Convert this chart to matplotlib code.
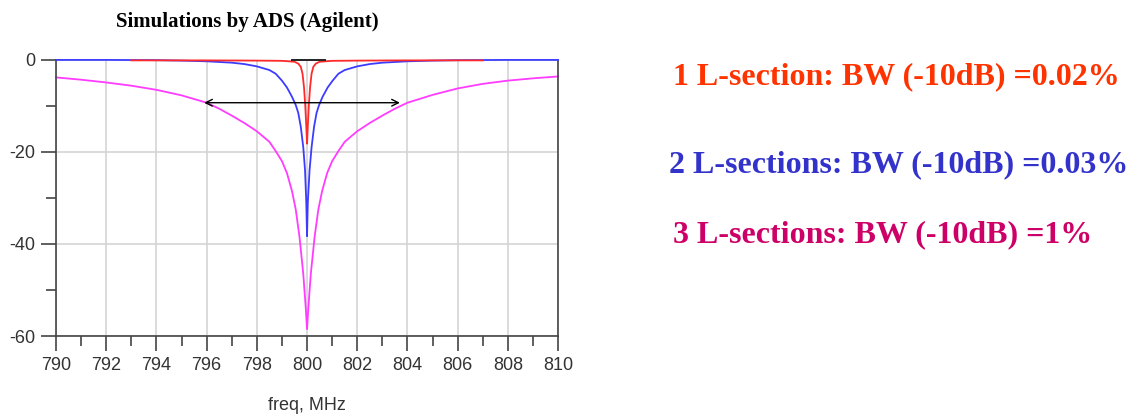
import numpy as np
import matplotlib.pyplot as plt
from matplotlib.ticker import MultipleLocator

plt.rcParams["axes.unicode_minus"] = False

f3 = [790, 791, 792, 793, 794, 795, 796, 796.5, 797, 797.5, 798, 798.5, 798.75, 799,
      799.2, 799.4, 799.55, 799.7, 799.85, 799.95, 800, 800.05, 800.15, 800.3, 800.45,
      800.6, 800.8, 801, 801.25, 801.5, 802, 802.5, 803, 803.5, 804, 805, 806, 807,
      808, 809, 810]
s3 = [-3.8, -4.3, -4.9, -5.6, -6.5, -7.7, -9.3, -10.6, -12.1, -13.7, -15.5, -17.8, -19.8,
      -22.0, -24.6, -28.5, -32.5, -38.5, -46.5, -54.0, -58.5, -54.0, -46.5, -38.5, -32.5,
      -28.5, -24.6, -22.0, -19.8, -17.8, -15.5, -13.7, -12.1, -10.6, -9.3, -7.6, -6.2,
      -5.2, -4.5, -4.0, -3.6]

f2 = [790, 792, 794, 795, 796, 797, 797.5, 798, 798.5, 798.75, 799, 799.2, 799.4, 799.55,
      799.65, 799.75, 799.85, 799.92, 799.97, 800, 800.03, 800.1, 800.18, 800.28, 800.38,
      800.48, 800.62, 800.82, 801.02, 801.25, 801.5, 802, 802.5, 803, 804, 805, 806, 808, 810]
s2 = [0, 0, -0.05, -0.15, -0.3, -0.6, -0.9, -1.4, -2.2, -3.0, -4.5, -6.0, -8.0, -9.8,
      -11.5, -14.5, -19, -24, -31, -38.3, -31, -24, -19, -14.5, -11.5, -9.8, -8.0, -6.0,
      -4.5, -3.0, -2.2, -1.4, -0.9, -0.6, -0.3, -0.15, -0.05, 0, 0]

f1 = [793, 796, 798, 799, 799.5, 799.65, 799.75, 799.82, 799.88, 799.93, 799.97, 800.0,
      800.03, 800.07, 800.12, 800.18, 800.25, 800.35, 800.5, 801, 802, 804, 807]
s1 = [-0.1, -0.1, -0.15, -0.2, -0.4, -0.8, -1.5, -3.0, -6.0, -10, -14.5, -18.2, -14.5,
      -10, -6.0, -3.0, -1.5, -0.8, -0.4, -0.2, -0.15, -0.1, -0.1]

ref_f = [799.4, 800.7]
ref_s = [0, 0]

bw_f = [795.9, 803.7]
bw_level = -9.3

notes = ["1 L-section: BW (-10dB) =0.02%",
         "2 L-sections: BW (-10dB) =0.03%",
         "3 L-sections: BW (-10dB) =1%"]
note_colors = ["#ff3300", "#3333cc", "#cc0066"]

fig = plt.figure(figsize=(11.41, 4.19), dpi=100)
ax = fig.add_axes([0.0491, 0.198, 0.44, 0.659])

ax.plot(f2, s2, color="#3c3cff", lw=1.3, clip_on=False, zorder=3)
ax.plot(f3, s3, color="#ff3cff", lw=1.3, clip_on=False, zorder=2)
ax.plot(f1, s1, color="#ff2a2a", lw=1.3, clip_on=False, zorder=4)
ax.plot(ref_f, ref_s, color="#222222", lw=1.4, clip_on=False, zorder=5)

ax.annotate("", xy=(bw_f[1], bw_level), xytext=(bw_f[0], bw_level),
            arrowprops=dict(arrowstyle="<->", color="black", lw=1.0, mutation_scale=12,
                            shrinkA=0, shrinkB=0), zorder=6)

ax.set_xlim(790, 810)
ax.set_ylim(-60, 0)
ax.xaxis.set_major_locator(MultipleLocator(2))
ax.xaxis.set_minor_locator(MultipleLocator(1))
ax.yaxis.set_major_locator(MultipleLocator(20))
ax.yaxis.set_minor_locator(MultipleLocator(10))
ax.grid(True, which="major", color="#d4d4d4", lw=1.2)
ax.set_axisbelow(True)

for side in ["left", "bottom", "right"]:
    ax.spines[side].set_color("#444444")
    ax.spines[side].set_linewidth(1.2)
ax.spines["top"].set_visible(False)

ax.tick_params(which="major", length=11, width=1.2, color="#444444", labelcolor="#333333",
               labelsize=13, pad=4)
ax.tick_params(which="minor", length=7, width=1.2, color="#444444")
for lab in ax.get_xticklabels() + ax.get_yticklabels():
    lab.set_family("Liberation Sans")

ax.set_xlabel("freq, MHz", fontsize=13, color="#333333", family="Liberation Sans", labelpad=17)

fig.text(0.2165, 0.935, "Simulations by ADS (Agilent)", ha="center", va="baseline",
         fontsize=15, fontweight="bold", family="Liberation Serif")

for txt, col, x, y in zip(notes, note_colors, [0.590, 0.586, 0.590], [0.799, 0.590, 0.423]):
    fig.text(x, y, txt, color=col, fontsize=23, fontweight="bold",
             family="Liberation Serif", va="baseline", ha="left")

fig.savefig("out.png", dpi=100)
